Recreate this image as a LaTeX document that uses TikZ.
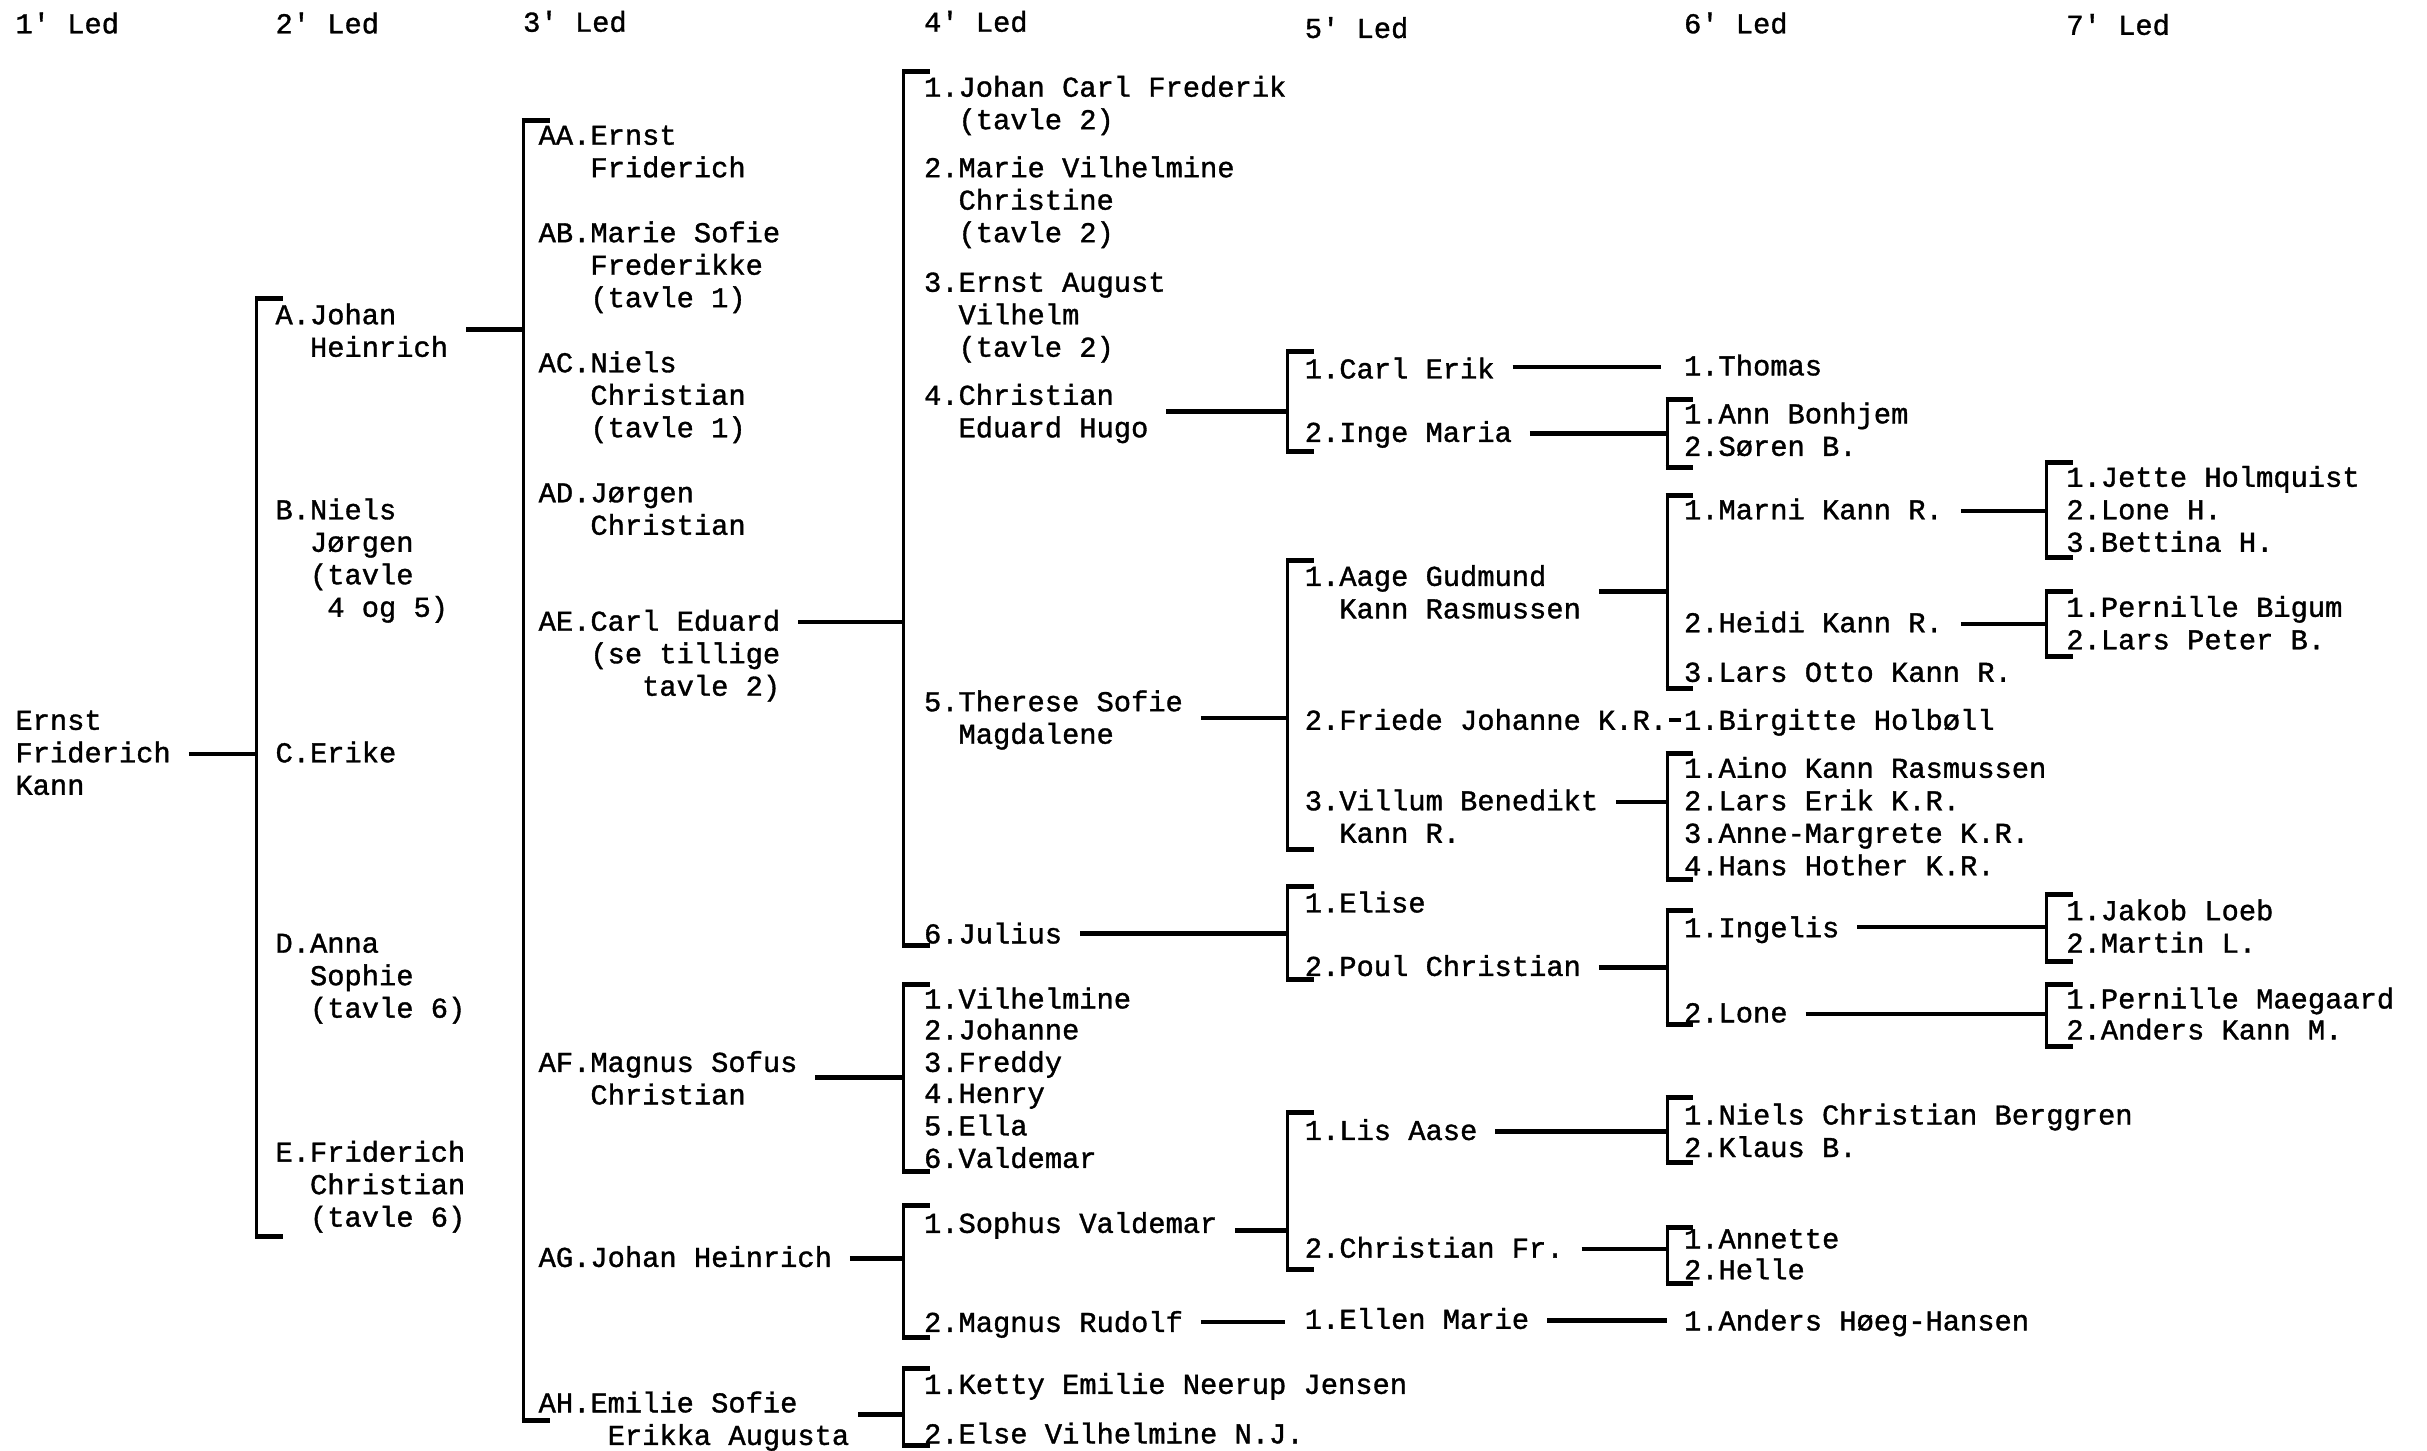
\documentclass[tikz,border=0pt]{standalone}
\usepackage{fontspec}
\setmonofont{Liberation Mono}[UprightFeatures={FakeBold=1.2}]
\newcommand\ph[1]{\phantom{#1}}
\tikzset{
  txt/.style={anchor=base west, inner sep=0pt, outer sep=0pt, yshift=-8.5pt, align=left,
              font=\ttfamily\fontsize{28.75pt}{32.5pt}\selectfont},
  ltwo/.style={yshift=-32.5pt},
  lthree/.style={yshift=-65pt},
  lfour/.style={yshift=-97.5pt},
  spine/.style={line width=3pt},
  tick/.style={line width=5pt},
  conn/.style={line width=4.5pt, shorten <=18pt},
  shortdash/.style={line width=4.5pt},
}
\newcommand\brk[4]{%
  \coordinate (#1t) at (#2,#3); \coordinate (#1b) at (#2,#4);
  \draw[spine] (#1t) -- (#1b);
  \draw[tick] ([xshift=-1.5pt]#1t) -- ++(18,0);
  \draw[tick] ([xshift=-1.5pt]#1b) -- ++(18,0);}
\begin{document}
\begin{tikzpicture}[x=1.5478pt, y=-1.5478pt]
\useasboundingbox (0,0) rectangle (1568,937);
\fill[white] (0,0) rectangle (1568,937);
% headers
\node[txt] (h1) at (10,16) {1' Led};
\node[txt] (h2) at (178,16) {2' Led};
\node[txt] (h3) at (338,15) {3' Led};
\node[txt] (h4) at (597,15) {4' Led};
\node[txt] (h5) at (843,19) {5' Led};
\node[txt] (h6) at (1088,16) {6' Led};
\node[txt] (h7) at (1335,17) {7' Led};
% generation 1
\node[txt,lthree] (root) at (10,466) {Ernst\\Friderich\\Kann};
% generation 2
\node[txt,ltwo] (a) at (178,204) {A.Johan\\\ph{A.}Heinrich};
\node[txt,lfour] (b) at (178,330) {B.Niels\\\ph{B.}Jørgen\\\ph{B.}(tavle\\\ph{B.(}4 og 5)};
\node[txt] (c) at (178,487) {C.Erike};
\node[txt,lthree] (d) at (178,610) {D.Anna\\\ph{D.}Sophie\\\ph{D.}(tavle 6)};
\node[txt,lthree] (e) at (178,745) {E.Friderich\\\ph{E.}Christian\\\ph{E.}(tavle 6)};
% generation 3
\node[txt,ltwo] (aa) at (348,88) {AA.Ernst\\\ph{AA.}Friderich};
\node[txt,lthree] (ab) at (348,151) {AB.Marie Sofie\\\ph{AB.}Frederikke\\\ph{AB.}(tavle 1)};
\node[txt,lthree] (ac) at (348,235) {AC.Niels\\\ph{AC.}Christian\\\ph{AC.}(tavle 1)};
\node[txt,ltwo] (ad) at (348,319) {AD.Jørgen\\\ph{AD.}Christian};
\node[txt,lthree] (ae) at (348,402) {AE.Carl Eduard\\\ph{AE.}(se tillige\\\ph{AE.(se}tavle 2)};
\node[txt,ltwo] (af) at (348,687) {AF.Magnus Sofus\\\ph{AF.}Christian};
\node[txt] (ag) at (348,813) {AG.Johan Heinrich};
\node[txt,ltwo] (ah) at (348,907) {AH.Emilie Sofie\\\ph{AH.E}Erikka Augusta};
% generation 4
\node[txt,ltwo] (n1) at (597,57) {1.Johan Carl Frederik\\\ph{1.}(tavle 2)};
\node[txt,lthree] (n2) at (597,109) {2.Marie Vilhelmine\\\ph{2.}Christine\\\ph{2.}(tavle 2)};
\node[txt,lthree] (n3) at (597,183) {3.Ernst August\\\ph{3.}Vilhelm\\\ph{3.}(tavle 2)};
\node[txt,ltwo] (n4) at (597,256) {4.Christian\\\ph{4.}Eduard Hugo};
\node[txt,ltwo] (n5) at (597,454) {5.Therese Sofie\\\ph{5.}Magdalene};
\node[txt] (n6) at (597,604) {6.Julius};
\node[txt] (f1) at (597,646) {1.Vilhelmine};
\node[txt] (f2) at (597,666) {2.Johanne};
\node[txt] (f3) at (597,687) {3.Freddy};
\node[txt] (f4) at (597,707) {4.Henry};
\node[txt] (f5) at (597,728) {5.Ella};
\node[txt] (f6) at (597,749) {6.Valdemar};
\node[txt] (g1) at (597,791) {1.Sophus Valdemar};
\node[txt] (g2) at (597,855) {2.Magnus Rudolf};
\node[txt] (k1) at (597,895) {1.Ketty Emilie Neerup Jensen};
\node[txt] (k2) at (597,927) {2.Else Vilhelmine N.J.};
% generation 5
\node[txt] (ce) at (843,239) {1.Carl Erik};
\node[txt] (im) at (843,280) {2.Inge Maria};
\node[txt,ltwo] (agk) at (843,373) {1.Aage Gudmund\\\ph{1.}Kann Rasmussen};
\node[txt] (fj) at (843,466) {2.Friede Johanne K.R.};
\node[txt,ltwo] (vb) at (843,518) {3.Villum Benedikt\\\ph{3.}Kann R.};
\node[txt] (el) at (843,584) {1.Elise};
\node[txt] (pc) at (843,625) {2.Poul Christian};
\node[txt] (la) at (843,731) {1.Lis Aase};
\node[txt] (cf) at (843,807) {2.Christian Fr.};
\node[txt] (em) at (843,853) {1.Ellen Marie};
% generation 6
\node[txt] (th) at (1088,237) {1.Thomas};
\node[txt] (abj) at (1088,268) {1.Ann Bonhjem};
\node[txt] (sb) at (1088,289) {2.Søren B.};
\node[txt] (mk) at (1088,330) {1.Marni Kann R.};
\node[txt] (hk) at (1088,403) {2.Heidi Kann R.};
\node[txt] (lok) at (1088,435) {3.Lars Otto Kann R.};
\node[txt] (bh) at (1088,466) {1.Birgitte Holbøll};
\node[txt] (akr) at (1088,497) {1.Aino Kann Rasmussen};
\node[txt] (lek) at (1088,518) {2.Lars Erik K.R.};
\node[txt] (amk) at (1088,539) {3.Anne-Margrete K.R.};
\node[txt] (hhk) at (1088,560) {4.Hans Hother K.R.};
\node[txt] (ing) at (1088,600) {1.Ingelis};
\node[txt] (lon) at (1088,655) {2.Lone};
\node[txt] (ncb) at (1088,721) {1.Niels Christian Berggren};
\node[txt] (kb) at (1088,742) {2.Klaus B.};
\node[txt] (ann) at (1088,801) {1.Annette};
\node[txt] (hel) at (1088,821) {2.Helle};
\node[txt] (ahh) at (1088,854) {1.Anders Høeg-Hansen};
% generation 7
\node[txt] (jh) at (1335,309) {1.Jette Holmquist};
\node[txt] (lh) at (1335,330) {2.Lone H.};
\node[txt] (bth) at (1335,351) {3.Bettina H.};
\node[txt] (pbg) at (1335,393) {1.Pernille Bigum};
\node[txt] (lpb) at (1335,414) {2.Lars Peter B.};
\node[txt] (jl) at (1335,589) {1.Jakob Loeb};
\node[txt] (mtl) at (1335,610) {2.Martin L.};
\node[txt] (pm) at (1335,646) {1.Pernille Maegaard};
\node[txt] (akm) at (1335,666) {2.Anders Kann M.};
% brackets
\brk{sA}{166}{193}{799}
\brk{sB}{338}{78}{918}
\brk{sC}{584}{46}{611}
\brk{sD}{584}{636}{757}
\brk{sE}{584}{779}{864}
\brk{sF}{584}{884}{934}
\brk{sG}{832}{227}{292}
\brk{sH}{832}{362}{549}
\brk{sI}{832}{573}{633}
\brk{sJ}{832}{719}{820}
\brk{sK}{1077}{258}{302}
\brk{sL}{1077}{320}{445}
\brk{sM}{1077}{487}{568}
\brk{sN}{1077}{588}{662}
\brk{sO}{1077}{709}{751}
\brk{sP}{1077}{793}{829}
\brk{sQ}{1322}{299}{360}
\brk{sR}{1322}{382}{424}
\brk{sS}{1322}{578}{621}
\brk{sT}{1322}{636}{676}
% junctions on the spines
\coordinate (jA) at (166,487);
\coordinate (jB) at (338,213);
\coordinate (jC) at (584,402);
\coordinate (jD) at (584,696);
\coordinate (jE) at (584,813);
\coordinate (jF) at (584,914);
\coordinate (jG) at (832,266);
\coordinate (jH) at (832,464);
\coordinate (jI) at (832,603);
\coordinate (jJ) at (832,795);
\coordinate (jK) at (1077,280);
\coordinate (jL) at (1077,382);
\coordinate (jM) at (1077,518);
\coordinate (jN) at (1077,625);
\coordinate (jO) at (1077,731);
\coordinate (jP) at (1077,807);
\coordinate (jQ) at (1322,330);
\coordinate (jR) at (1322,403);
\coordinate (jS) at (1322,599);
\coordinate (jT) at (1322,655);
% connectors
\draw[conn] (root.east |- jA) -- (jA);
\draw[conn] (a.east |- jB) -- (jB);
\draw[conn] (ae.east |- jC) -- (jC);
\draw[conn] (af.east |- jD) -- (jD);
\draw[conn] (ag.east |- jE) -- (jE);
\draw[conn, shorten <=9pt] (ah.east |- jF) -- (jF);
\draw[conn] (n4.east |- jG) -- (jG);
\draw[conn] (n5.east |- jH) -- (jH);
\draw[conn] (n6.east |- jI) -- (jI);
\draw[conn] (g1.east |- jJ) -- (jJ);
\draw[conn] (im.east |- jK) -- (jK);
\draw[conn] (agk.east |- jL) -- (jL);
\draw[conn] (vb.east |- jM) -- (jM);
\draw[conn] (pc.east |- jN) -- (jN);
\draw[conn] (la.east |- jO) -- (jO);
\draw[conn] (cf.east |- jP) -- (jP);
\draw[conn] (mk.east |- jQ) -- (jQ);
\draw[conn] (hk.east |- jR) -- (jR);
\draw[conn] (ing.east |- jS) -- (jS);
\draw[conn] (lon.east |- jT) -- (jT);
\coordinate (jTh) at (1088,237);
\coordinate (jEm) at (843,854);
\coordinate (jAh) at (1088,853);
\coordinate (jBh) at (1088,465);
\draw[conn, shorten >=23pt] (ce.east |- jTh) -- (jTh);
\draw[conn, shorten >=20pt] (g2.east |- jEm) -- (jEm);
\draw[conn, shorten >=17pt] (em.east |- jAh) -- (jAh);
\draw[shortdash, shorten <=2pt, shorten >=3pt] (fj.east |- jBh) -- (jBh);
\end{tikzpicture}
\end{document}
